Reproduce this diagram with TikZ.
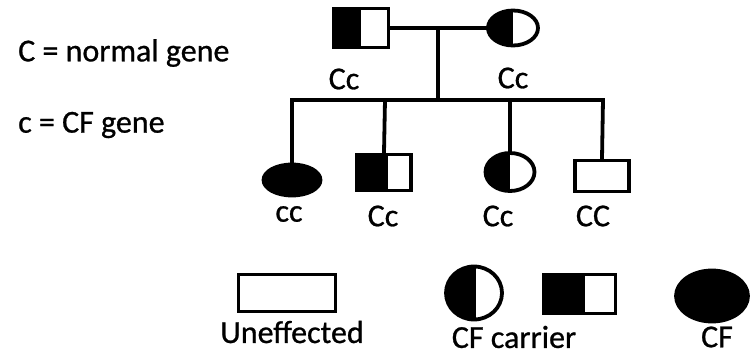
\documentclass[tikz,border=0pt]{standalone}
\usepackage{fontspec}
\setmainfont{Carlito}[FakeBold=0.8]
\usetikzlibrary{calc,shapes.geometric}
\tikzset{
  lw/.style={line width=3.8pt},
  conn/.style={lw, line cap=rect},
  box/.style={draw, lw, rectangle, inner sep=0pt, fill=white},
  oval/.style={draw, lw, ellipse, inner sep=0pt, fill=white},
  part/.style={path picture={\fill[black] (path picture bounding box.south west) rectangle ($(path picture bounding box.north west)!#1!(path picture bounding box.north east)$);}},
  lbl/.style={font=\fontsize{32}{38}\selectfont, inner sep=0pt},
}
\begin{document}
\begin{tikzpicture}[x=1pt,y=-1pt]
\useasboundingbox (0,0) rectangle (750,356);
% key text
\node[lbl, anchor=west] (k1) at (18,53) {C = normal gene};
\node[lbl, anchor=west] (k2) at (18,125) {c = CF gene};
% parents
\node[box, part=0.5, minimum width=55pt, minimum height=39pt] (father) at (361,28) {};
\node[oval, part=0.5, minimum width=50pt, minimum height=35pt] (mother) at (513,28) {};
\node[lbl] (lf) at (344,79) {Cc};
\node[lbl] (lm) at (513,78) {Cc};
\coordinate (mid) at (438,28);
\coordinate (sib) at (438,100);
\coordinate (b1) at (292,100);
\coordinate (b2) at (385,100);
\coordinate (b3) at (510,100);
\coordinate (b4) at (603,100);
% children
\node[oval, fill=black, minimum width=57pt, minimum height=31pt] (c1) at (292,180) {};
\node[box, part=0.58, minimum width=54pt, minimum height=36pt] (c2) at (384,172.5) {};
\node[oval, part=0.5, minimum width=49pt, minimum height=38pt] (c3) at (510,172) {};
\node[box, minimum width=54pt, minimum height=31pt] (c4) at (602,176) {};
\node[lbl] (l1) at (289,214) {cc};
\node[lbl] (l2) at (383,216) {Cc};
\node[lbl] (l3) at (498,216) {Cc};
\node[lbl] (l4) at (593,216) {CC};
% connectors
\draw[conn] (father.east) -- (mother.west);
\draw[conn] (mid) -- (sib);
\draw[conn] (b1) -- (b4);
\draw[conn] (b1) -- (c1.north);
\draw[conn] (b2) -- (c2.north);
\draw[conn] (b3) -- (c3.north);
\draw[conn] (b4) -- (c4.north);
% legend
\node[box, minimum width=97pt, minimum height=37pt] (g1) at (287,293) {};
\node[lbl] (gl1) at (292,332) {Uneffected};
\node[oval, part=0.53, minimum width=56pt, minimum height=53pt] (g2) at (474,293) {};
\node[box, part=0.58, minimum width=72pt, minimum height=39pt] (g3) at (579.5,294) {};
\node[lbl] (gl2) at (514,337) {CF carrier};
\node[oval, fill=black, minimum width=72pt, minimum height=51pt] (g4) at (712,296) {};
\node[lbl] (gl3) at (717,337) {CF};
\end{tikzpicture}
\end{document}
